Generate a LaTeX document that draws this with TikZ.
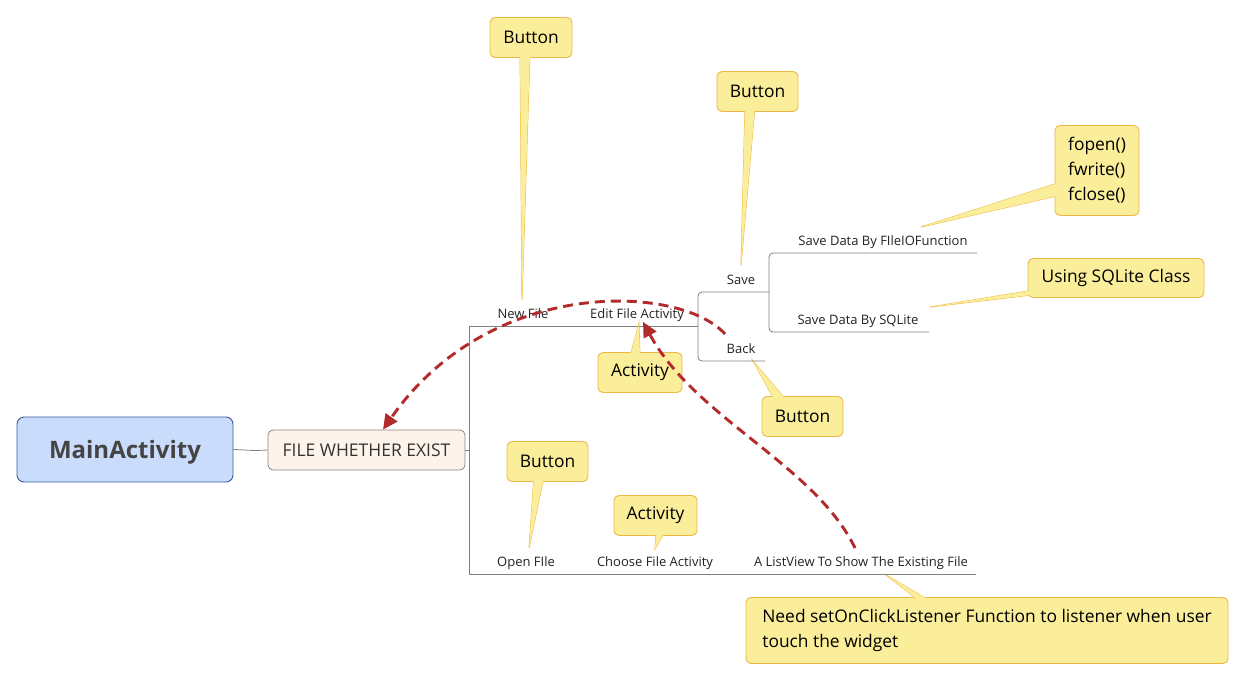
\documentclass[tikz,border=0pt]{standalone}
\usepackage{fontspec}
\setmainfont{Open Sans}
\usetikzlibrary{arrows.meta}
\pgfdeclarelayer{background}
\pgfdeclarelayer{foreground}
\pgfsetlayers{background,main,foreground}
\definecolor{cfill}{RGB}{251,238,154}
\definecolor{cline}{RGB}{236,184,72}
\definecolor{mainfill}{RGB}{201,220,251}
\definecolor{mainline}{RGB}{59,91,158}
\definecolor{filefill}{RGB}{253,243,234}
\definecolor{fileline}{RGB}{140,133,128}
\definecolor{conn}{RGB}{128,128,128}
\definecolor{redarr}{RGB}{178,42,42}
\definecolor{txt}{RGB}{34,34,34}
\tikzset{
  callbox/.style={draw=cline, fill=cfill, line width=0.9pt, rounded corners=5pt, font=\fontsize{17.4}{25}\selectfont, text=black, inner sep=0pt, minimum height=40pt},
  ptr/.style={draw=cline, fill=cfill, line width=0.9pt, line join=miter},
  ptrfill/.style={fill=cfill},
  lbl/.style={font=\fontsize{13}{15}\selectfont, text=txt, anchor=base, inner sep=0pt},
  branch/.style={draw=conn, line width=0.8pt, rounded corners=4pt},
  relarrow/.style={draw=redarr, line width=2.9pt, dash pattern=on 10pt off 6pt, -{Triangle[length=15pt,width=14pt]}}
}
\newcommand{\callptr}[3]{%
  \begin{pgfonlayer}{background}\path[ptr] (#1) -- (#3) -- (#2) -- cycle;\end{pgfonlayer}
  \begin{pgfonlayer}{foreground}\path[ptrfill] (#1) -- (#3) -- (#2) -- cycle;\end{pgfonlayer}}
\begin{document}
\begin{tikzpicture}[x=1pt,y=-1pt]
\useasboundingbox (0,0) rectangle (1245,680);

% central nodes
\node[draw=mainline, fill=mainfill, line width=0.9pt, rounded corners=7pt, minimum width=216pt, minimum height=65pt, inner sep=0pt, text height=17pt, text depth=0pt, font=\fontsize{24}{28}\bfseries, text={rgb,255:red,68;green,68;blue,68}] (main) at (125,449.5) {MainActivity};
\node[draw=fileline, fill=filefill, line width=0.8pt, rounded corners=5pt, minimum width=197pt, minimum height=40pt, inner sep=0pt, font=\fontsize{17.5}{20}\selectfont, text={rgb,255:red,51;green,51;blue,51}] (file) at (366.5,450) {FILE WHETHER EXIST};

\draw[draw=conn, line width=0.8pt] (main.east) .. controls (250,450) and (250,451) .. (file.west);

% branch coordinates
\coordinate (j0) at (469,450);
\coordinate (t0) at (469,326);
\coordinate (b0) at (469,574);
\coordinate (tEnd) at (698,326);
\coordinate (bEnd) at (976,574);
\coordinate (e1) at (698,292);
\coordinate (e2) at (698,361);
\coordinate (saveEnd) at (769,292);
\coordinate (backEnd) at (765,361);
\coordinate (s1) at (769,253);
\coordinate (s2) at (769,332);
\coordinate (fioEnd) at (977,253);
\coordinate (sqlEnd) at (929,332);

\draw[draw=conn, line width=0.8pt] (file.east) -- (j0);
\draw[draw=conn, line width=0.8pt] (tEnd) -- (t0) -- (b0) -- (bEnd);
\path[branch] (saveEnd) -- (e1) -- (e2) -- (backEnd);
\path[branch] (fioEnd) -- (s1) -- (s2) -- (sqlEnd);

% labels
\node[lbl] (newfile) at (523,318.5) {New File};
\node[lbl] (editfile) at (637,318.5) {Edit File Activity};
\node[lbl] (save) at (741,284.5) {Save};
\node[lbl] (back) at (741,353.5) {Back};
\node[lbl] (fio) at (883,245.5) {Save Data By FIleIOFunction};
\node[lbl] (sql) at (858,324.5) {Save Data By SQLite};
\node[lbl] (openfile) at (526,566.5) {Open FIle};
\node[lbl] (choose) at (655,566.5) {Choose File Activity};
\node[lbl] (listview) at (861,566.5) {A ListView To Show The Existing File};

% callouts
\node[callbox, minimum width=82pt] (c1) at (531,37.5) {Button};
\coordinate (c1t) at (522,300);
\coordinate (c1a) at (520,52); \coordinate (c1b) at (530,52);
\callptr{c1a}{c1b}{c1t}

\node[callbox, minimum width=81pt] (c2) at (757.5,91.5) {Button};
\coordinate (c2t) at (741,265);
\coordinate (c2a) at (745,106); \coordinate (c2b) at (755,106);
\callptr{c2a}{c2b}{c2t}

\node[callbox, minimum width=84pt, minimum height=90pt, align=left] (c3) at (1097,170.5) {fopen()\\fwrite()\\fclose()};
\coordinate (c3t) at (921,227);
\coordinate (c3a) at (1061,182); \coordinate (c3b) at (1061,195);
\callptr{c3a}{c3b}{c3t}

\node[callbox, minimum width=176pt, minimum height=39pt] (c4) at (1116,278) {Using SQLite Class};
\coordinate (c4t) at (930,307);
\coordinate (c4a) at (1034,290); \coordinate (c4b) at (1040,294);
\callptr{c4a}{c4b}{c4t}

\node[callbox, minimum width=84pt] (c5) at (640,372.5) {Activity};
\coordinate (c5t) at (639,323);
\coordinate (c5a) at (630,357); \coordinate (c5b) at (640,357);
\callptr{c5a}{c5b}{c5t}

\node[callbox, minimum width=81pt] (c6) at (802.5,416.5) {Button};
\coordinate (c6t) at (753,361);
\coordinate (c6a) at (775,401); \coordinate (c6b) at (787,401);
\callptr{c6a}{c6b}{c6t}

\node[callbox, minimum width=81pt] (c7) at (547.5,461.5) {Button};
\coordinate (c7t) at (529,548);
\coordinate (c7a) at (534,476); \coordinate (c7b) at (544,476);
\callptr{c7a}{c7b}{c7t}

\node[callbox, minimum width=83pt] (c8) at (655.5,515.5) {Activity};
\coordinate (c8t) at (655,549);
\coordinate (c8a) at (656,530); \coordinate (c8b) at (666,530);
\callptr{c8a}{c8b}{c8t}

\node[callbox, minimum width=482pt, minimum height=66pt, align=left] (c9) at (987,630.5) {Need setOnClickListener Function to listener when user\\touch the widget};
\coordinate (c9t) at (886,575);
\coordinate (c9a) at (922,603); \coordinate (c9b) at (934,603);
\callptr{c9a}{c9b}{c9t}

% relation arrows
\coordinate (r1s) at (725,334);
\coordinate (r2s) at (855,548);
\draw[relarrow] (r1s) .. controls (680,284) and (490,276) .. (file.north -| 383,430);
\draw[relarrow] (r2s) .. controls (815,465) and (695,418) .. (editfile.south -| 643,323);
\end{tikzpicture}
\end{document}
